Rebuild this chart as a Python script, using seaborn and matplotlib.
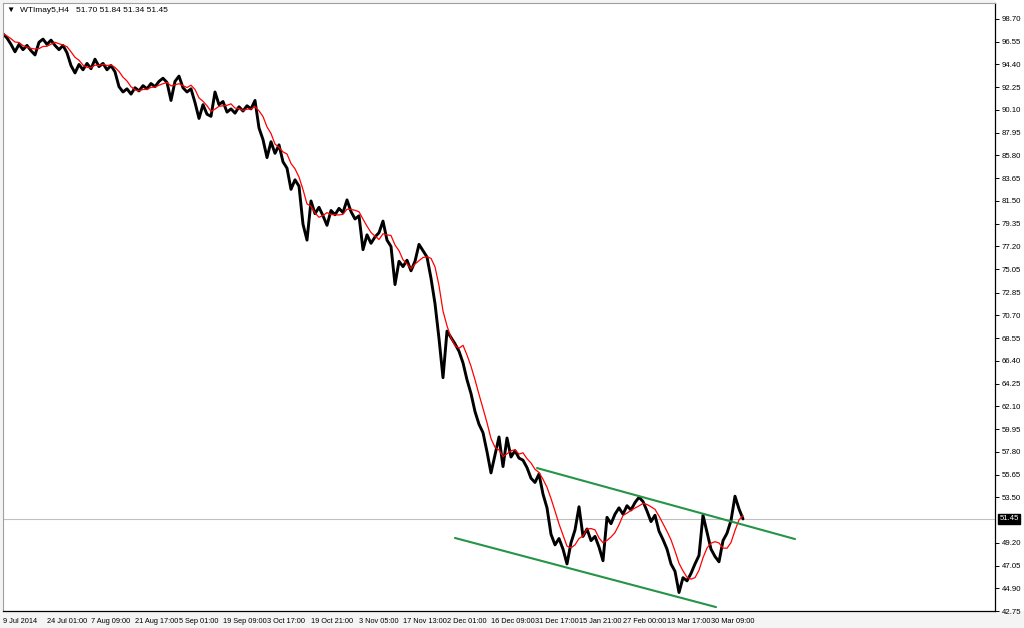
import numpy as np
import pandas as pd
import seaborn as sns
import matplotlib.pyplot as plt

# H4 closes of WTI May-15, sampled along the chart (one value every few bars)
closes = [
    97.3, 96.9, 96.3, 95.6, 96.3, 95.8, 96.2, 95.7, 95.3, 96.5,
    96.8, 96.3, 96.7, 96.2, 95.8, 96.2, 95.5, 94.3, 93.6, 94.4,
    93.9, 94.5, 94.0, 94.9, 94.2, 94.5, 93.9, 94.3, 93.7, 92.3,
    91.8, 92.1, 91.6, 92.2, 91.9, 92.4, 92.1, 92.6, 92.3, 92.8,
    93.1, 92.7, 91.0, 92.8, 93.3, 92.2, 91.8, 92.1, 90.8, 89.3,
    90.6, 89.7, 89.5, 91.8, 90.6, 90.9, 89.9, 90.2, 89.8, 90.4,
    90.0, 90.5, 90.2, 91.0, 88.4, 87.3, 85.6, 87.1, 86.0, 86.8,
    85.2, 84.6, 82.6, 83.5, 82.9, 79.3, 77.8, 81.5, 80.3, 80.9,
    80.1, 79.2, 80.6, 80.2, 80.8, 80.4, 81.6, 80.5, 79.8, 80.1,
    76.9, 78.3, 77.5, 78.1, 78.5, 79.6, 77.8, 77.2, 73.6, 75.8,
    75.3, 75.9, 74.9, 75.8, 77.4, 76.8, 76.2, 74.2, 71.8, 68.5,
    64.8, 69.2, 68.6, 68.0, 67.3, 66.2, 64.6, 63.3, 61.6, 60.4,
    59.6, 57.8, 55.8, 57.5, 59.2, 56.4, 59.1, 57.3, 57.9, 57.2,
    57.0, 56.3, 55.3, 54.9, 55.7, 53.8, 52.5, 50.0, 49.0, 49.6,
    48.6, 47.2, 49.2, 50.4, 52.6, 49.8, 50.5, 49.4, 49.8, 48.8,
    47.5, 51.6, 51.0, 51.9, 52.5, 51.9, 52.7, 52.3, 53.0, 53.5,
    53.1, 52.2, 51.2, 51.8, 50.3, 49.5, 48.6, 47.2, 46.5, 44.5,
    45.9, 45.6, 46.3, 47.2, 48.0, 51.8, 50.2, 48.6, 47.9, 47.4,
    49.4, 50.1, 51.3, 53.6, 52.4, 51.45,
]

tick_pos = [0, 11, 22, 33, 44, 55, 66, 77, 89, 100, 111, 122, 133, 144, 155, 166, 177]
tick_labels = ["9 Jul 2014", "24 Jul 01:00", "7 Aug 09:00", "21 Aug 17:00", "5 Sep 01:00",
               "19 Sep 09:00", "3 Oct 17:00", "19 Oct 21:00", "3 Nov 05:00", "17 Nov 13:00",
               "2 Dec 01:00", "16 Dec 09:00", "31 Dec 17:00", "15 Jan 21:00", "27 Feb 00:00",
               "13 Mar 17:00", "30 Mar 09:00"]

price_ticks = [98.70, 96.55, 94.40, 92.25, 90.10, 87.95, 85.80, 83.65, 81.50, 79.35,
               77.20, 75.05, 72.85, 70.70, 68.55, 66.40, 64.25, 62.10, 59.95, 57.80,
               55.65, 53.50, 49.20, 47.05, 44.90, 42.75]

last_price = 51.45
upper_x = [133.5, 198.0]
upper_y = [56.26, 49.55]
lower_x = [113.0, 178.25]
lower_y = [49.65, 43.12]

df = pd.DataFrame({"bar": np.arange(len(closes)), "close": closes})
df["ma"] = df["close"].rolling(5, min_periods=1).mean()

sns.set_style("white")
plt.rcParams["font.family"] = ["Liberation Sans", "DejaVu Sans"]

fig = plt.figure(figsize=(10.24, 6.28), dpi=100)
fig.patch.set_facecolor("#f4f4f4")
ax = fig.add_axes([3 / 1024, 17 / 628, 992 / 1024, 608 / 628])
ax.set_facecolor("white")
fig.add_artist(plt.Rectangle((995 / 1024, 17 / 628), 29 / 1024, 611 / 628,
                             transform=fig.transFigure, fc="white", ec="none", zorder=-1))

sns.lineplot(data=df, x="bar", y="close", color="black", lw=2.1, ax=ax)
sns.lineplot(data=df, x="bar", y="ma", color="red", lw=0.9, ax=ax)
ax.plot(upper_x, upper_y, color="#259447", lw=1.5)
ax.plot(lower_x, lower_y, color="#259447", lw=1.5)
ax.axhline(last_price, color="#c0c0c0", lw=0.8, zorder=0)

ax.set_xlim(0, 248)
ax.set_ylim(42.75, 100.21)
ax.set_xlabel("")
ax.set_ylabel("")

ax.yaxis.tick_right()
ax.set_yticks(price_ticks)
ax.set_yticklabels([f"{v:.2f}" for v in price_ticks])
ax.tick_params(axis="y", direction="out", length=3, width=0.7, labelsize=5.6, pad=2, colors="black")

ax.set_xticks(tick_pos)
ax.set_xticklabels(tick_labels, ha="left")
ax.tick_params(axis="x", direction="out", length=4, width=0.7, labelsize=5.3, pad=1, colors="black")

for side in ["right", "bottom"]:
    ax.spines[side].set_color("black")
    ax.spines[side].set_linewidth(0.9)
for side in ["left", "top"]:
    ax.spines[side].set_color("#a0a0a0")
    ax.spines[side].set_linewidth(0.8)

ax.text(1.0045, last_price, f"{last_price:.2f}", transform=ax.get_yaxis_transform(),
        ha="left", va="center", fontsize=5.6, color="white",
        bbox=dict(boxstyle="square,pad=0.15", fc="black", ec="black"))

ax.text(0.004, 0.993, "\u25bc  WTImay5,H4   51.70 51.84 51.34 51.45", transform=ax.transAxes,
        ha="left", va="top", fontsize=6, color="black")

fig.savefig("out.png", dpi=100, facecolor=fig.get_facecolor())
